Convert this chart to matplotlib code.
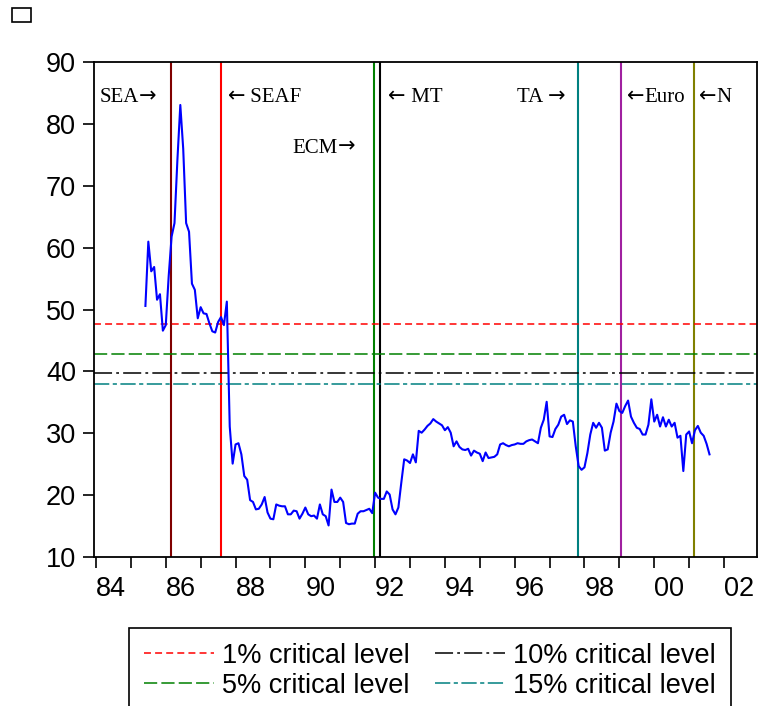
import numpy as np
import pandas as pd
import matplotlib
matplotlib.use('Agg')
import matplotlib.pyplot as plt
from matplotlib.patches import Rectangle
from matplotlib.offsetbox import TextArea, HPacker, AnnotationBbox

# Série mensal (jun/1985 em diante)
valores = [
    50.6, 61.0, 56.2, 56.9, 51.6, 52.5, 46.6, 47.5, 55.4, 61.8,
    64.0, 74.2, 83.1, 76.0, 64.0, 62.6, 54.2, 53.2, 48.6, 50.4,
    49.4, 49.3, 47.8, 46.5, 46.3, 48.0, 48.8, 47.5, 51.3, 31.1,
    25.1, 28.2, 28.4, 26.6, 23.1, 22.5, 19.2, 18.9, 17.7, 17.8,
    18.5, 19.7, 17.2, 16.2, 16.1, 18.5, 18.3, 18.2, 18.2, 16.9,
    16.9, 17.5, 17.4, 16.2, 17.0, 18.0, 16.9, 16.6, 16.7, 16.2,
    18.5, 16.9, 16.6, 15.1, 20.9, 18.9, 18.9, 19.6, 18.9, 15.5,
    15.3, 15.4, 15.4, 17.0, 17.4, 17.4, 17.6, 17.8, 17.1, 20.4,
    19.6, 19.4, 19.4, 20.6, 20.1, 17.7, 16.9, 18.0, 22.0, 25.8,
    25.6, 25.2, 26.6, 25.3, 30.4, 30.1, 30.6, 31.2, 31.6, 32.3,
    31.9, 31.6, 31.3, 30.5, 31.0, 30.1, 27.9, 28.7, 27.8, 27.4,
    27.3, 27.5, 26.4, 27.2, 26.9, 26.7, 25.5, 26.9, 26.0, 26.1,
    26.2, 26.6, 28.2, 28.4, 28.1, 27.9, 28.1, 28.2, 28.4, 28.3,
    28.3, 28.7, 28.9, 29.0, 28.7, 28.4, 30.9, 32.2, 35.1, 29.5,
    29.4, 30.7, 31.4, 32.7, 33.0, 31.5, 32.1, 31.9, 27.9, 24.7,
    24.1, 24.5, 26.8, 29.8, 31.7, 30.9, 31.7, 30.9, 27.2, 27.4,
    30.1, 31.9, 34.8, 33.6, 33.3, 34.4, 35.3, 32.7, 31.7, 30.9,
    30.7, 29.8, 29.8, 31.4, 35.5, 31.9, 33.0, 31.1, 32.6, 31.1,
    32.2, 31.1, 31.7, 29.3, 29.6, 23.9, 29.8, 30.3, 28.4, 30.5,
    31.2, 30.1, 29.6, 28.3, 26.6,
]
datas = pd.date_range('1985-06-01', periods=len(valores), freq='MS')
anos = datas.year + (datas.month - 1) / 12

# Níveis críticos
niveis_nomes = ['1% critical level', '5% critical level', '10% critical level', '15% critical level']
niveis_valores = [47.7, 42.9, 39.7, 38.0]

# Eventos (linhas verticais)
eventos_nomes = ['SEA', 'SEAF', 'ECM', 'MT', 'TA', 'Euro', 'N']
eventos_anos = [1986.15, 1987.58, 1991.98, 1992.15, 1997.81, 1999.05, 2001.13]
eventos_cores = ['#800000', '#ff0000', '#008000', '#000000', '#008080', '#a020a0', '#808000']

# Rótulos dos eventos: (texto, seta) ou (seta, texto)
rotulos_partes = [['SEA', '\u2192'], ['\u2190', ' SEAF'], ['ECM', '\u2192'], ['\u2190', ' MT'],
                  ['TA ', '\u2192'], ['\u2190', 'Euro'], ['\u2190', 'N']]
rotulos_x = [1984.11, 1987.78, 1989.62, 1992.37, 1996.07, 1999.22, 2001.28]
rotulos_y = [84.4, 84.4, 76.3, 84.4, 84.4, 84.4, 84.4]

plt.rcParams['font.family'] = ['Liberation Sans', 'DejaVu Sans']
plt.rcParams['lines.scale_dashes'] = False

fig = plt.figure(figsize=(7.6, 7.06), dpi=100)
ax = fig.add_axes([94 / 760, 1 - 557 / 706, 663 / 760, (557 - 62.3) / 706])

# Linhas verticais dos eventos
for ano, cor in zip(eventos_anos, eventos_cores):
    ax.axvline(ano, color=cor, lw=1.5, zorder=2)

# Linhas horizontais dos níveis críticos
estilos = [
    dict(color='#ff0000', dashes=(5, 3)),
    dict(color='#008000', dashes=(9.5, 3)),
    dict(color='#000000', dashes=(13, 3, 2, 3)),
    dict(color='#008080', dashes=(11, 2.5, 3, 2.5)),
]
for nome, valor, est in zip(niveis_nomes, niveis_valores, estilos):
    ax.axhline(valor, lw=1.1, label=nome, zorder=2, **est)

ax.plot(anos, valores, color='#0000ff', lw=1.5, zorder=3)

# Rótulos: letras em serifa, setas em DejaVu Sans
for partes, x, y in zip(rotulos_partes, rotulos_x, rotulos_y):
    filhos = []
    for p in partes:
        if p in ('\u2190', '\u2192'):
            filhos.append(TextArea(p, textprops=dict(fontsize=15, family='DejaVu Sans')))
        else:
            filhos.append(TextArea(p, textprops=dict(fontsize=15, family='Liberation Serif')))
    caixa = HPacker(children=filhos, align='baseline', pad=0, sep=0)
    ab = AnnotationBbox(caixa, (x, y), xycoords='data', box_alignment=(0, 0.5),
                        frameon=False, pad=0)
    ax.add_artist(ab)

ax.set_xlim(1983.943, 2002.945)
ax.set_ylim(10, 90)
ax.set_yticks(np.arange(10, 91, 10))
anos_ticks = np.arange(1984, 2003)
ax.set_xticks(anos_ticks)
ax.set_xticklabels([f'{a % 100:02d}' if a % 2 == 0 else '' for a in anos_ticks], ha='left')
ax.tick_params(axis='both', direction='out', labelsize=19.5, width=1.2, color='black')
ax.tick_params(axis='y', length=8, pad=5)
ax.tick_params(axis='x', length=8, pad=6)
for sp in ax.spines.values():
    sp.set_linewidth(1.3)
    sp.set_color('black')

# Caixa pequena no canto superior esquerdo
fig.patches.append(Rectangle((12 / 760, 1 - 21.5 / 706), 19 / 760, 13 / 706,
                             transform=fig.transFigure, fill=False,
                             edgecolor='black', lw=1.2))

leg = ax.legend(loc='upper left', bbox_to_anchor=(129 / 760, 1 - 628 / 706),
                bbox_transform=fig.transFigure, ncol=2, fontsize=19.5,
                frameon=True, fancybox=False, edgecolor='black', framealpha=1,
                handlelength=2.6, handletextpad=0.3, columnspacing=0.9,
                labelspacing=0.15, borderpad=0.55, borderaxespad=0)
leg.get_frame().set_linewidth(1.2)

fig.savefig('out.png', dpi=100)
